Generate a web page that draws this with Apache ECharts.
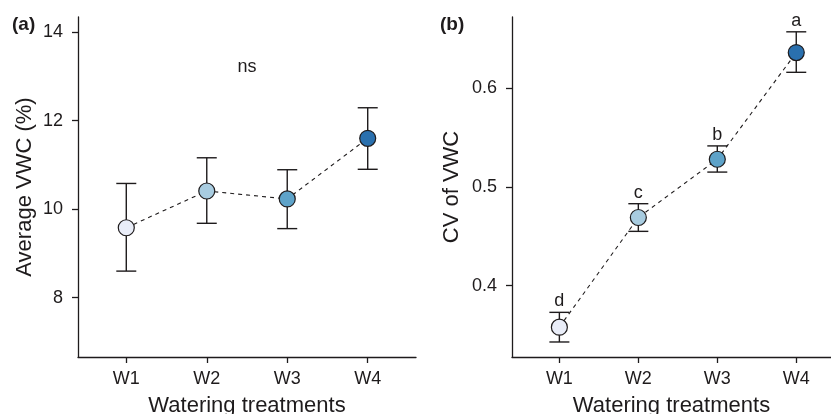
<!DOCTYPE html>
<html>
<head>
<meta charset="utf-8">
<script src="https://cdn.jsdelivr.net/npm/echarts@6/dist/echarts.min.js"></script>
<style>
	html, body {margin:0; padding:0; background:#fff;}
	#main {width:831px; height:414px;}
</style>
</head>
<body>
<div id="main"></div>
<script>
	// 数据
	var categories = ['W1', 'W2', 'W3', 'W4'];
	var colors = ['#e9edf8', '#a8cce0', '#5ea3c9', '#2a70ae'];
	var meanA = [9.58, 10.41, 10.23, 11.60];
	var lowA = [8.60, 9.68, 9.56, 10.90];
	var highA = [10.58, 11.16, 10.89, 12.29];
	var meanB = [0.358, 0.469, 0.528, 0.636];
	var lowB = [0.343, 0.455, 0.515, 0.616];
	var highB = [0.373, 0.483, 0.5415, 0.657];
	var lettersB = ['d', 'c', 'b', 'a'];
	var ticksA = [8, 10, 12, 14];
	var ticksB = [0.4, 0.5, 0.6];

	var ink = '#1e1b1c';
	var font = 'Liberation Sans, Arial, sans-serif';
	var xpos = [1, 2, 3, 4];

	function pts(vals) {
		return vals.map(function (v, i) { return [xpos[i], v]; });
	}
	function errData(lo, hi) {
		return lo.map(function (v, i) { return [xpos[i], v, hi[i]]; });
	}
	function errSeries(idx, lo, hi) {
		return {
			type: 'custom',
			xAxisIndex: idx,
			yAxisIndex: idx,
			silent: true,
			z: 2,
			data: errData(lo, hi),
			renderItem: function (params, api) {
				var a = api.coord([api.value(0), api.value(1)]);
				var b = api.coord([api.value(0), api.value(2)]);
				var w = 10;
				var st = {stroke: ink, lineWidth: 1.4};
				return {
					type: 'group',
					children: [
						{type: 'line', shape: {x1: a[0], y1: a[1], x2: b[0], y2: b[1]}, style: st},
						{type: 'line', shape: {x1: a[0] - w, y1: a[1], x2: a[0] + w, y2: a[1]}, style: st},
						{type: 'line', shape: {x1: b[0] - w, y1: b[1], x2: b[0] + w, y2: b[1]}, style: st}
					]
				};
			}
		};
	}
	function lineSeries(idx, vals) {
		return {
			type: 'line',
			xAxisIndex: idx,
			yAxisIndex: idx,
			z: 3,
			symbol: 'circle',
			symbolSize: 16,
			lineStyle: {color: ink, width: 1.1, type: [4, 4]},
			data: vals.map(function (v, i) {
				return {value: [xpos[i], v], itemStyle: {color: colors[i], borderColor: ink, borderWidth: 1.2}};
			}),
			animation: false
		};
	}
	function xAxis(idx, max) {
		return {
			type: 'value', gridIndex: idx, min: 0.4, max: max,
			name: 'Watering treatments', nameLocation: 'middle', nameGap: 38,
			nameTextStyle: {fontSize: 22, color: ink, fontFamily: font},
			axisLine: {lineStyle: {color: ink, width: 1.3}},
			axisTick: {customValues: xpos, length: 6, lineStyle: {color: ink, width: 1.3}},
			axisLabel: {customValues: xpos, margin: 13, fontSize: 18, color: ink, fontFamily: font,
				formatter: function (v) { return categories[Math.round(v) - 1]; }},
			splitLine: {show: false}
		};
	}
	function yAxis(idx, min, max, ticks, name, gap) {
		return {
			type: 'value', gridIndex: idx, min: min, max: max,
			name: name, nameLocation: 'middle', nameGap: gap,
			nameTextStyle: {fontSize: 22, color: ink, fontFamily: font},
			axisLine: {show: true, lineStyle: {color: ink, width: 1.3}},
			axisTick: {show: true, customValues: ticks, length: 6, lineStyle: {color: ink, width: 1.3}},
			axisLabel: {customValues: ticks, margin: 15, fontSize: 18, color: ink, fontFamily: font},
			splitLine: {show: false}
		};
	}

	var myChart = echarts.init(document.getElementById('main'), null, {renderer: 'canvas'});
	var option = {
		animation: false,
		backgroundColor: '#fff',
		grid: [
			{left: 78, top: 17, width: 338, height: 340, containLabel: false, outerBoundsMode: 'none'},
			{left: 512, top: 17, width: 319, height: 340, containLabel: false, outerBoundsMode: 'none'}
		],
		xAxis: [xAxis(0, 4.6), xAxis(1, 4.44)],
		yAxis: [
			yAxis(0, 6.66, 14.34, ticksA, 'Average VWC (%)', 42),
			yAxis(1, 0.3278, 0.672, ticksB, 'CV of VWC', 49)
		],
		graphic: [
			{type: 'text', left: 12, top: 15, style: {text: '(a)', font: 'bold 19px ' + font, fill: ink}},
			{type: 'text', left: 440, top: 15, style: {text: '(b)', font: 'bold 19px ' + font, fill: ink}}
		],
		series: [
			errSeries(0, lowA, highA),
			lineSeries(0, meanA),
			errSeries(1, lowB, highB),
			lineSeries(1, meanB),
			{
				type: 'scatter', xAxisIndex: 0, yAxisIndex: 0, symbolSize: 0, silent: true,
				itemStyle: {opacity: 1},
				data: [[2.5, 13.21]],
				label: {show: true, position: 'inside', formatter: 'ns', fontSize: 18, color: ink, fontFamily: font}
			},
			{
				type: 'scatter', xAxisIndex: 1, yAxisIndex: 1, symbolSize: 0, silent: true,
				itemStyle: {opacity: 1},
				data: pts(highB),
				label: {show: true, position: 'top', distance: 2, fontSize: 18, color: ink, fontFamily: font,
					formatter: function (p) { return lettersB[p.dataIndex]; }}
			}
		]
	};
	myChart.setOption(option);
</script>
</body>
</html>
